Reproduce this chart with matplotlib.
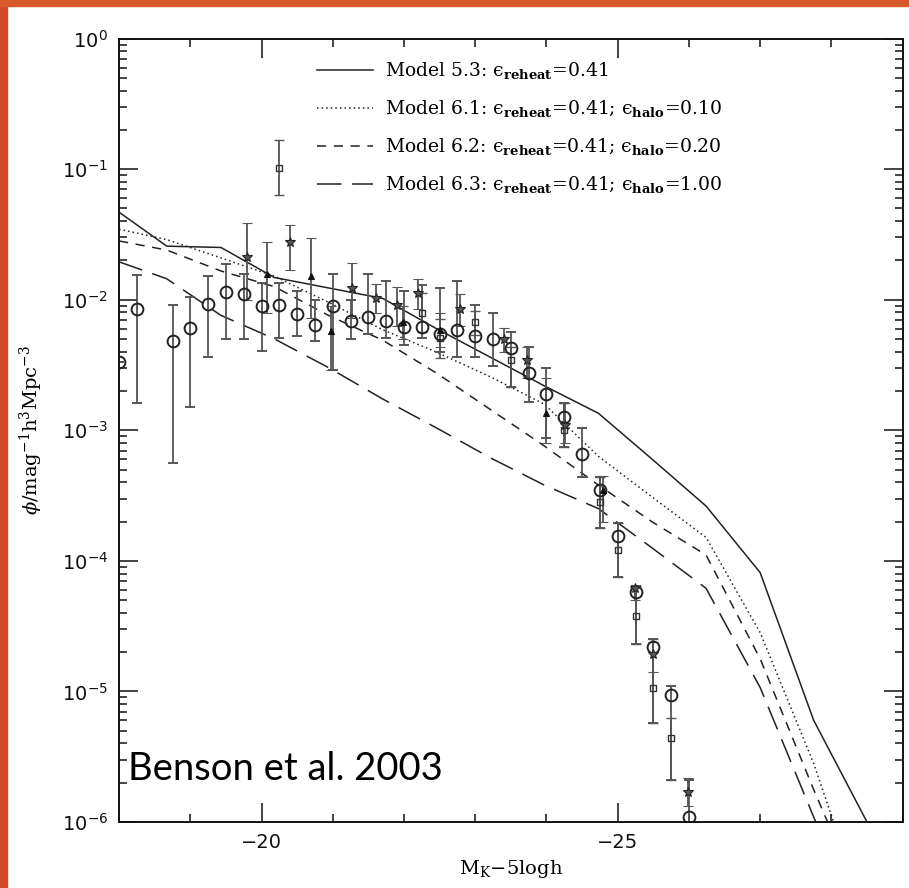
import numpy as np
import matplotlib
matplotlib.use("Agg")
import matplotlib.pyplot as plt
from matplotlib.patches import Rectangle
from matplotlib.ticker import MultipleLocator, LogLocator, NullFormatter

# model curves (log10 phi) on a common magnitude grid
model_x = [-18.0, -18.67, -19.43, -20.18, -20.94, -21.70, -22.45, -23.21,
           -23.97, -24.73, -25.48, -26.24, -27.0, -27.75, -28.5]
m53 = [-1.33, -1.59, -1.60, -1.83, -1.91, -1.99, -2.22, -2.44,
       -2.66, -2.87, -3.22, -3.58, -4.09, -5.22, -6.0]
m61 = [-1.46, -1.54, -1.68, -1.82, -2.02, -2.23, -2.40, -2.59,
       -2.80, -3.20, -3.51, -3.82, -4.55, -5.55, -6.75]
m62 = [-1.55, -1.62, -1.78, -1.90, -2.12, -2.31, -2.56, -2.84,
       -3.12, -3.42, -3.70, -3.955, -4.75, -5.75, -6.7]
m63 = [-1.71, -1.84, -2.12, -2.30, -2.52, -2.76, -2.98, -3.21,
       -3.42, -3.60, -3.90, -4.21, -4.97, -5.96, -6.9]

eps = "\u03f5"
labels = ["Model 5.3: " + eps + r"$_{\mathbf{reheat}}$=0.41",
          "Model 6.1: " + eps + r"$_{\mathbf{reheat}}$=0.41; " + eps + r"$_{\mathbf{halo}}$=0.10",
          "Model 6.2: " + eps + r"$_{\mathbf{reheat}}$=0.41; " + eps + r"$_{\mathbf{halo}}$=0.20",
          "Model 6.3: " + eps + r"$_{\mathbf{reheat}}$=0.41; " + eps + r"$_{\mathbf{halo}}$=1.00"]

# observed points: log10 phi, with upper / lower ends of the error bars
circ_x = [-18.0, -18.25] + [-18.75 - 0.25 * i for i in range(30)]
circ_y = [-2.48, -2.07, -2.32, -2.22, -2.03, -1.94, -1.96, -2.05, -2.04, -2.11,
          -2.19, -2.05, -2.16, -2.13, -2.16, -2.21, -2.21, -2.26, -2.23, -2.28,
          -2.30, -2.37, -2.56, -2.72, -2.90, -3.18, -3.46, -3.81, -4.24, -4.66,
          -5.03, -5.96]
circ_top = [-2.48, -1.81, -2.04, -1.98, -1.82, -1.73, -1.80, -1.87, -1.87, -1.93,
            -2.00, -1.80, -2.00, -1.80, -1.86, -1.93, -1.89, -1.91, -1.86, -2.04,
            -2.10, -2.25, -2.36, -2.52, -2.79, -2.98, -3.36, -3.71, -4.19, -4.60,
            -4.96, -5.68]
circ_bot = [-2.48, -2.79, -3.25, -2.82, -2.44, -2.30, -2.30, -2.39, -2.29, -2.28,
            -2.32, -2.54, -2.30, -2.26, -2.29, -2.35, -2.29, -2.40, -2.44, -2.44,
            -2.51, -2.67, -2.78, -3.06, -3.13, -3.36, -3.75, -4.12, -4.64, -5.24,
            -5.68, -6.3]

sq_x = [-20.25, -22.25, -22.5, -23.0, -23.5, -24.25, -24.75, -25.0, -25.25, -25.5, -25.75]
sq_y = [-0.99, -2.10, -2.29, -2.17, -2.46, -3.00, -3.55, -3.92, -4.42, -4.97, -5.36]
sq_top = [-0.78, -1.95, -2.15, -2.09, -2.36, -2.79, -3.36, -3.71, -4.19, -4.60, -5.20]
sq_bot = [-1.20, -2.25, -2.45, -2.27, -2.67, -3.13, -3.75, -4.12, -4.64, -5.24, -5.68]

st_x = [-19.8, -20.4, -21.27, -21.6, -21.9, -22.2, -22.79, -23.4, -23.72, -24.26,
        -25.24, -25.49, -25.99]
st_y = [-1.67, -1.56, -1.91, -1.99, -2.04, -1.95, -2.07, -2.30, -2.46, -2.96,
        -4.21, -4.71, -5.77]
st_top = [-1.41, -1.43, -1.72, -1.88, -1.90, -1.84, -1.96, -2.22, -2.36, -2.79,
          -4.19, -4.62, -5.66]
st_bot = [-2.00, -1.77, -2.14, -2.10, -2.20, -2.07, -2.20, -2.40, -2.60, -3.10,
          -4.30, -4.85, -5.88]

tr_x = [-20.08, -20.69, -20.98, -21.99, -22.5, -24.0, -24.8]
tr_y = [-1.80, -1.82, -2.24, -2.17, -2.23, -2.87, -3.46]
tr_top = [-1.56, -1.53, -2.05, -2.05, -2.10, -2.60, -3.35]
tr_bot = [-2.10, -2.14, -2.54, -2.30, -2.36, -3.10, -3.70]


def errpts(ax, x, y, top, bot, **kw):
    y = 10 ** np.array(y)
    lo = y - 10 ** np.array(bot)
    hi = 10 ** np.array(top) - y
    ax.errorbar(x, y, yerr=[lo, hi], ecolor="#555555", elinewidth=1.3,
                capsize=3.5, capthick=1.2, linestyle="none", **kw)


plt.rcParams["mathtext.fontset"] = "dejavuserif"
fig = plt.figure(figsize=(9.09, 8.88), dpi=100)
fig.patch.set_facecolor("white")
ax = fig.add_axes([0.131, 0.0743, 0.862, 0.8823])

styles = ["-", (0, (1, 2)), (0, (6, 5)), (0, (16, 7))]
handles = []
for ys, ls in zip([m53, m61, m62, m63], styles):
    h, = ax.plot(model_x, 10 ** np.array(ys), color="#222222", lw=1.1, linestyle=ls)
    handles.append(h)

errpts(ax, circ_x, circ_y, circ_top, circ_bot, marker="o", ms=8.5, mfc="none",
       mec="#222222", mew=1.4)
errpts(ax, sq_x, sq_y, sq_top, sq_bot, marker="s", ms=4.5, mfc="none",
       mec="#333333", mew=1.0)
errpts(ax, st_x, st_y, st_top, st_bot, marker="*", ms=7, mfc="#555555",
       mec="#222222", mew=0.8)
errpts(ax, tr_x, tr_y, tr_top, tr_bot, marker="^", ms=5, mfc="#111111",
       mec="#111111", mew=0.8)

ax.set_yscale("log")
ax.set_xlim(-18, -29)
ax.set_ylim(1e-6, 1)
ax.xaxis.set_major_locator(MultipleLocator(5))
ax.xaxis.set_minor_locator(MultipleLocator(1))
ax.yaxis.set_major_locator(LogLocator(base=10, numticks=10))
ax.yaxis.set_minor_locator(LogLocator(base=10, subs=np.arange(2, 10), numticks=20))
ax.yaxis.set_minor_formatter(NullFormatter())
ax.tick_params(which="both", direction="in", top=True, right=True, width=1.1,
               labelsize=14, colors="#111111")
ax.tick_params(which="major", length=14, pad=8)
ax.tick_params(which="minor", length=6)
for s in ax.spines.values():
    s.set_linewidth(1.4)
    s.set_color("#111111")

ax.set_xlabel(r"M$_{\rm K}$$-$5logh", family="DejaVu Serif", fontsize=14, labelpad=4)
ax.set_ylabel(r"$\phi$/mag$^{-1}$h$^3$Mpc$^{-3}$", family="DejaVu Serif", fontsize=14,
              labelpad=12)

ax.legend(handles, labels, loc="upper left", bbox_to_anchor=(0.2526, 0.972),
          frameon=False, borderpad=0, borderaxespad=0, handlelength=3.0,
          handletextpad=0.6, labelspacing=0.9,
          prop={"family": "DejaVu Serif", "size": 13.5})

ax.text(0.0115, 0.0536, "Benson et al. 2003", transform=ax.transAxes,
        family="Lato", fontsize=27.5, va="baseline", ha="left", color="black")

# red textured frame strips from the slide background
fig.patches.append(Rectangle((0, 0), 7 / 909, 1, transform=fig.transFigure,
                             color="#d24a2a", zorder=-1))
fig.patches.append(Rectangle((0, 1 - 6 / 888), 1, 6 / 888, transform=fig.transFigure,
                             color="#d65a2c", zorder=-1))

fig.savefig("out.png", dpi=100)
